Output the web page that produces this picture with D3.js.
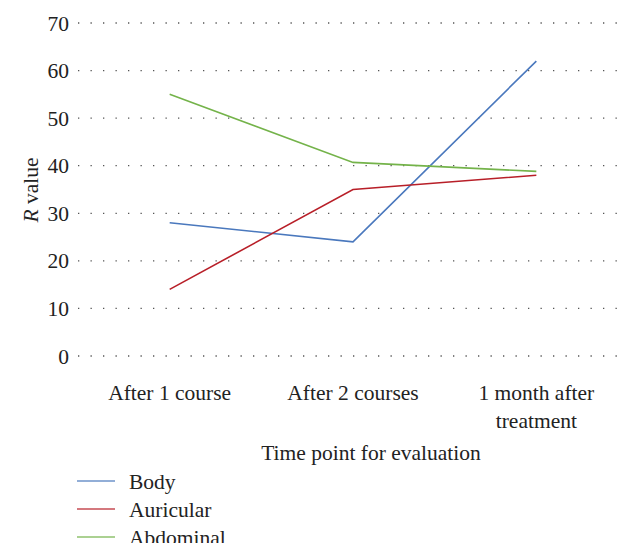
<!DOCTYPE html>
<html>
<head>
<meta charset="utf-8">
<script src="https://cdn.jsdelivr.net/npm/d3@7"></script>
<style>
  body { margin: 0; background: #fff; }
  text { font-family: "Liberation Serif", "DejaVu Serif", serif; fill: #222; }
</style>
</head>
<body>
<div id="chart"></div>
<script>
var categories = [["After 1 course"], ["After 2 courses"], ["1 month after", "treatment"]];
var seriesNames = ["Body", "Auricular", "Abdominal"];
var body = [28, 24, 62];
var auricular = [14, 35, 38];
var abdominal = [55, 40.7, 38.8];
var yTicks = [0, 10, 20, 30, 40, 50, 60, 70];
var colors = ["#4a78bd", "#b81f28", "#74b34a"];

var width = 642, height = 555;
var plotLeft = 78, plotRight = 628, plotTop = 23, plotBottom = 356;
var fs = "21.5px";

var svg = d3.select("#chart").append("svg")
    .attr("width", width)
    .attr("height", height)

// the original figure is cropped just under the legend
svg.append("clipPath").attr("id", "crop")
  .append("rect").attr("x", 0).attr("y", 0).attr("width", width).attr("height", 543)

var x = d3.scaleBand().domain(d3.range(categories.length)).range([plotLeft, plotRight])
var y = d3.scaleLinear().domain([0, 70]).range([plotBottom, plotTop])

// dotted gridlines
svg.selectAll(".grid").data(yTicks)
  .enter().append("line")
    .attr("x1", plotLeft).attr("x2", plotRight)
    .attr("y1", function(d) { return y(d); })
    .attr("y2", function(d) { return y(d); })
    .attr("stroke", "#555")
    .attr("stroke-width", 1.3)
    .attr("stroke-dasharray", "1.3,11.2")

// y tick labels
svg.selectAll(".ylab").data(yTicks)
  .enter().append("text")
    .attr("x", 69)
    .attr("y", function(d) { return y(d); })
    .attr("dy", "0.35em")
    .attr("text-anchor", "end")
    .style("font-size", fs)
    .text(function(d) { return d; })

// x tick labels
svg.selectAll(".xlab").data(categories)
  .enter().append("text")
    .attr("text-anchor", "middle")
    .style("font-size", fs)
    .each(function(d, i) {
      var t = d3.select(this);
      d.forEach(function(line, j) {
        t.append("tspan")
          .attr("x", x(i) + x.bandwidth() / 2)
          .attr("y", 400 + j * 28)
          .text(line);
      });
    })

// axis titles
svg.append("text")
    .attr("x", 371).attr("y", 460)
    .attr("text-anchor", "middle")
    .style("font-size", fs)
    .text("Time point for evaluation")

var yt = svg.append("text")
    .attr("transform", "translate(38,190) rotate(-90)")
    .attr("text-anchor", "middle")
    .style("font-size", fs)
yt.append("tspan").style("font-style", "italic").text("R")
yt.append("tspan").text(" value")

// lines
var data = [body, auricular, abdominal];
var line = d3.line()
    .x(function(d, i) { return x(i) + x.bandwidth() / 2; })
    .y(function(d) { return y(d); })

svg.selectAll(".series").data(data)
  .enter().append("path")
    .attr("d", line)
    .attr("fill", "none")
    .attr("stroke", function(d, i) { return colors[i]; })
    .attr("stroke-width", 1.6)

// legend
var legend = svg.append("g").attr("clip-path", "url(#crop)")
var leg = legend.selectAll(".leg").data(seriesNames)
  .enter().append("g")
    .attr("transform", function(d, i) { return "translate(77," + (481 + i * 28) + ")"; })
leg.append("line")
    .attr("x1", 0).attr("x2", 38)
    .attr("stroke", function(d, i) { return colors[i]; })
    .attr("stroke-opacity", 0.8)
    .attr("stroke-width", 1.4)
leg.append("text")
    .attr("x", 52).attr("dy", "0.35em")
    .style("font-size", fs)
    .text(function(d) { return d; })
</script>
</body>
</html>
